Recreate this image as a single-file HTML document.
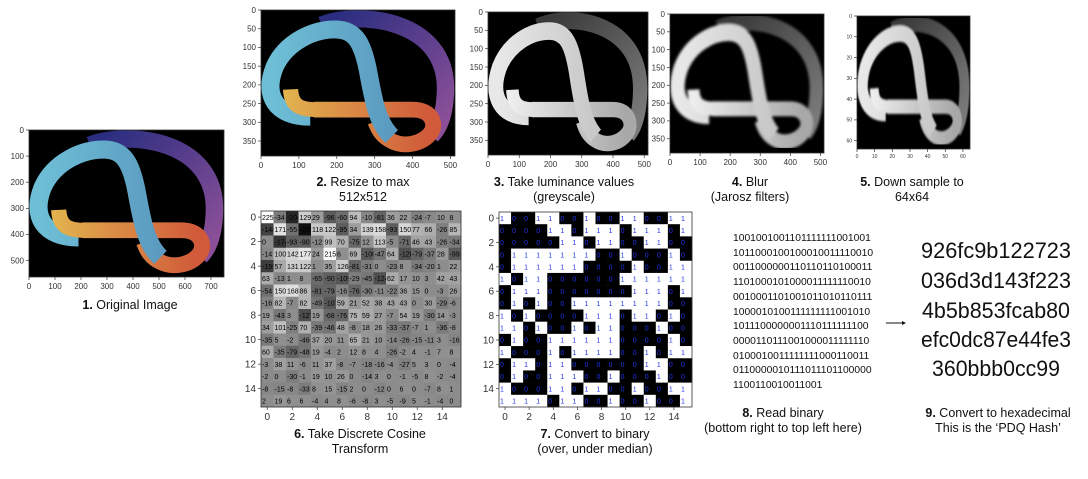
<!DOCTYPE html>
<html><head><meta charset="utf-8">
<style>
html,body{margin:0;padding:0;background:#fff;}
svg{display:block;font-family:"Liberation Sans",sans-serif;}
.t{font-size:12.5px;fill:#111;text-anchor:middle;}
</style></head>
<body>
<svg id="fig" width="1088" height="479" viewBox="0 0 1088 479" xmlns="http://www.w3.org/2000/svg">
<defs>
<filter id="blur4" x="-5%" y="-5%" width="110%" height="110%"><feGaussianBlur stdDeviation="4"/></filter>
<filter id="blur5" x="-5%" y="-5%" width="110%" height="110%"><feGaussianBlur stdDeviation="3"/></filter>
</defs>
<g id="titles">
<text class="t" x="130" y="309"><tspan font-weight="bold">1.</tspan> Original Image</text>
<text class="t" x="363" y="186"><tspan font-weight="bold">2.</tspan> Resize to max</text>
<text class="t" x="363" y="201">512x512</text>
<text class="t" x="564" y="186"><tspan font-weight="bold">3.</tspan> Take luminance values</text>
<text class="t" x="564" y="201">(greyscale)</text>
<text class="t" x="750" y="186"><tspan font-weight="bold">4.</tspan> Blur</text>
<text class="t" x="750" y="201">(Jarosz filters)</text>
<text class="t" x="912" y="186"><tspan font-weight="bold">5.</tspan> Down sample to</text>
<text class="t" x="912" y="201">64x64</text>
<text class="t" x="360" y="438"><tspan font-weight="bold">6.</tspan> Take Discrete Cosine</text>
<text class="t" x="360" y="453">Transform</text>
<text class="t" x="595" y="438"><tspan font-weight="bold">7.</tspan> Convert to binary</text>
<text class="t" x="595" y="453">(over, under median)</text>
<text class="t" x="783" y="417"><tspan font-weight="bold">8.</tspan> Read binary</text>
<text class="t" x="783" y="432">(bottom right to top left here)</text>
<text class="t" x="998" y="417"><tspan font-weight="bold">9.</tspan> Convert to hexadecimal</text>
<text class="t" x="998" y="432">This is the ‘PDQ Hash’</text>
</g>
<g id="bintext" font-size="10.3" fill="#111">
<text x="733" y="241">1001001001101111111001001</text>
<text x="733" y="256">1011000100100010011110010</text>
<text x="733" y="270">0011000000110110110100011</text>
<text x="733" y="285">1101000101000011111110010</text>
<text x="733" y="300">0010001101001011010110111</text>
<text x="733" y="315">1000010100111111111001010</text>
<text x="733" y="329">1011100000001110111111100</text>
<text x="733" y="344">0000110111001000011111110</text>
<text x="733" y="359">0100010011111111000110011</text>
<text x="733" y="373">0110000010111011101100000</text>
<text x="733" y="388">1100110010011001</text>
</g>
<g>
<line x1="886" y1="323" x2="902" y2="323" stroke="#111" stroke-width="1"/>
<polygon points="902,321 906,323 902,325" fill="#111"/>
</g>
<g id="hex" font-size="22" fill="#111" text-anchor="middle">
<text x="996" y="258" textLength="150" lengthAdjust="spacingAndGlyphs">926fc9b122723</text>
<text x="996" y="288" textLength="150" lengthAdjust="spacingAndGlyphs">036d3d143f223</text>
<text x="996" y="318" textLength="148" lengthAdjust="spacingAndGlyphs">4b5b853fcab80</text>
<text x="996" y="347" textLength="150" lengthAdjust="spacingAndGlyphs">efc0dc87e44fe3</text>
<text x="996" y="376" textLength="128" lengthAdjust="spacingAndGlyphs">360bbb0cc99</text>
</g>
</svg>
<script>
const dctValues = [
[225,-34,-204,129,29,-96,-60,94,-10,-81,36,22,-24,-7,10,8],
[-148,171,-55,-250,118,122,-95,34,139,158,-93,150,77,66,-26,85],
[0,-174,-93,-90,-12,99,70,-75,12,113,-5,-71,46,43,-26,-34],
[-14,100,142,177,24,215,6,69,-100,-47,64,-120,-79,-37,28,-99],
[-159,57,131,122,1,35,126,-81,-31,0,-23,8,-34,-20,1,22],
[63,-13,1,8,-65,-90,-109,-29,-45,-124,62,17,10,3,42,43],
[-54,150,168,86,-81,-79,-16,-76,-30,-11,-22,36,15,0,-3,26],
[-16,82,-7,82,-49,-107,59,21,52,38,43,43,0,30,-29,-6],
[19,-43,3,-127,19,-68,-76,75,59,27,-7,54,19,-30,14,-3],
[34,101,-25,70,-39,-46,48,-8,18,26,-33,-37,-7,1,-36,-8],
[-35,5,-2,-46,37,20,11,65,21,10,-14,-26,-15,-11,3,-16],
[60,-35,-79,-48,19,-4,2,12,8,4,-26,-2,4,-1,7,8],
[-3,38,11,-6,11,37,-8,-7,-18,-16,-4,-27,5,3,0,-4],
[-2,0,-30,-1,19,10,26,0,-14,3,0,-1,-5,8,-2,-4],
[-8,-15,-8,-33,8,15,-15,2,0,-12,0,6,0,-7,8,1],
[2,19,6,6,-4,4,8,-6,-8,3,-5,-9,5,-1,-4,0]];
const binValues = [
[1,0,0,1,1,0,0,1,0,0,1,1,0,0,1,1],
[0,0,0,0,1,1,0,1,1,1,0,1,1,1,0,1],
[0,0,0,0,0,1,1,0,1,1,0,0,1,1,0,0],
[0,1,1,1,1,1,1,1,0,0,1,0,0,0,1,0],
[0,1,1,1,1,1,1,0,0,0,0,1,0,0,1,1],
[1,0,1,1,0,0,0,0,0,0,1,1,1,1,1,1],
[0,1,1,1,0,0,0,0,0,0,0,1,1,1,0,1],
[0,1,0,1,0,0,1,1,1,1,1,1,1,1,0,0],
[1,0,1,0,0,0,0,1,1,1,0,1,1,0,1,0],
[1,1,0,1,0,0,1,0,1,1,0,0,0,1,0,0],
[0,1,0,0,1,1,1,1,1,1,0,0,0,0,1,0],
[1,0,0,0,1,0,1,1,1,1,0,0,1,0,1,1],
[0,1,1,0,1,1,0,0,0,0,0,0,1,1,0,0],
[0,1,0,0,1,1,1,0,0,1,0,0,0,1,0,0],
[1,0,0,0,1,1,0,1,1,0,0,1,0,0,1,1],
[1,1,1,1,0,1,1,0,0,1,0,0,1,0,0,1]];
const gridTicks = [0,2,4,6,8,10,12,14];
const imgTicksX1 = [0,100,200,300,400,500,600,700];
const imgTicksY1 = [0,100,200,300,400,500];
const imgTicksX2 = [0,100,200,300,400,500];
const imgTicksY2 = [0,50,100,150,200,250,300,350];
const smallTicks = [0,10,20,30,40,50,60];

const NS="http://www.w3.org/2000/svg";
const svg=document.getElementById('fig');
function el(tag,attrs,parent){const e=document.createElementNS(NS,tag);for(const k in attrs)e.setAttribute(k,attrs[k]);(parent||svg).appendChild(e);return e;}

function axes(g,box,xmax,ymax,xt,yt,fs){
  const sx=v=>box[0]+v/xmax*(box[2]-box[0]);
  const sy=v=>box[1]+v/ymax*(box[3]-box[1]);
  xt.forEach(v=>{
    el('line',{x1:sx(v),x2:sx(v),y1:box[3],y2:box[3]+3,stroke:'#333','stroke-width':0.7},g);
    const t=el('text',{x:sx(v),y:box[3]+4+fs,'font-size':fs,fill:'#333','text-anchor':'middle'},g);
    t.textContent=v;
    
    
  });
  yt.forEach(v=>{
    el('line',{x1:box[0]-3,x2:box[0],y1:sy(v),y2:sy(v),stroke:'#333','stroke-width':0.7},g);
    const t=el('text',{x:box[0]-5,y:sy(v)+fs*0.35,'font-size':fs,fill:'#333','text-anchor':'end'},g);
    t.textContent=v;
    
    
  });
  el('rect',{x:box[0],y:box[1],width:box[2]-box[0],height:box[3]-box[1],fill:'none',stroke:'#333','stroke-width':0.8},g);
}

let gid=0;
function ribbon(box,pal,filter,name){
  const g=el('g',{});
  
  
  const s=el('svg',{x:box[0],y:box[1],width:box[2]-box[0],height:box[3]-box[1],viewBox:'0 0 512 390',preserveAspectRatio:'none'},g);
  el('rect',{x:0,y:0,width:512,height:390,fill:'#000'},s);
  const d=el('defs',{},s);
  function grad(x1,y1,x2,y2,c1,c2){const id='gr'+(gid++);const lg=el('linearGradient',{id:id,gradientUnits:'userSpaceOnUse',x1:x1,y1:y1,x2:x2,y2:y2},d);el('stop',{offset:0,'stop-color':c1},lg);el('stop',{offset:1,'stop-color':c2},lg);return 'url(#'+id+')';}
  const inner=el('g',filter?{filter:'url(#'+filter+')'}:{},s);
  const orange=grad(60,0,440,0,pal[2],pal[3]);
  el('path',{d:'M160 40 C260 0,488 25,487 210 C486 280,470 315,450 335',fill:'none',stroke:grad(200,20,480,300,pal[0],pal[1]),'stroke-width':46},inner);
  el('path',{d:'M140 266 L400 266 C455 266,465 310,445 332 C420 360,375 366,345 350 C320 338,310 320,302 298',fill:'none',stroke:orange,'stroke-width':42},inner);
  el('path',{d:'M130 285 C40 285,5 230,36 152 C66 85,140 50,200 52 C250 54,268 90,282 160 C296 235,305 300,345 338',fill:'none',stroke:grad(30,0,340,0,pal[4],pal[5]),'stroke-width':48},inner);
  el('path',{d:'M78 212 C80 255,102 266,145 266',fill:'none',stroke:orange,'stroke-width':40},inner);
  return g;
}
const colorPal=['#2b2e80','#8a4f98','#e2b44e','#d05a3a','#6ebed6','#5b9bc0'];
const greyPal=['#3a3a3a','#7a7a7a','#f0f0f0','#a8a8a8','#e8e8e8','#c8c8c8'];

const b1=[29,130,224,277]; ribbon(b1,colorPal,null,'original-image'); axes(svg,b1,750,563,imgTicksX1,imgTicksY1,8);
const b2=[261,10,455,156]; ribbon(b2,colorPal,null,'resized-image'); axes(svg,b2,512,390,imgTicksX2,imgTicksY2,8);
const b3=[488,12,648,155]; ribbon(b3,greyPal,null,'greyscale-image'); axes(svg,b3,512,390,imgTicksX2,imgTicksY2,8);
const b4=[670,14,824,153]; ribbon(b4,greyPal,'blur4','blurred-image'); axes(svg,b4,512,390,imgTicksX2,imgTicksY2,8);
const b5=[857,16,970,149]; ribbon(b5,greyPal,'blur5','downsampled-image'); axes(svg,b5,64,64,smallTicks,smallTicks,5);

function grid(box,name,fill,label,color){
  const g=el('g',{});
  
  
  const n=16,cw=(box[2]-box[0])/n,ch=(box[3]-box[1])/n;
  for(let r=0;r<n;r++)for(let c=0;c<n;c++){
    const cell=el('rect',{x:box[0]+c*cw,y:box[1]+r*ch,width:cw+0.3,height:ch+0.3,fill:fill(r,c)},g);
    
    
    const t=el('text',{x:box[0]+c*cw+1,y:box[1]+r*ch+ch*0.72,'font-size':7,fill:color(r,c)},g);
    t.textContent=label(r,c);
  }
  const ax=el('g',{},g);
  const sx=v=>box[0]+(v+0.5)*cw, sy=v=>box[1]+(v+0.5)*ch;
  gridTicks.forEach(v=>{
    el('line',{x1:sx(v),x2:sx(v),y1:box[3],y2:box[3]+3,stroke:'#333','stroke-width':0.7},ax);
    const t=el('text',{x:sx(v),y:box[3]+13,'font-size':10,fill:'#333','text-anchor':'middle'},ax);t.textContent=v;
    el('line',{x1:box[0]-3,x2:box[0],y1:sy(v),y2:sy(v),stroke:'#333','stroke-width':0.7},ax);
    const u=el('text',{x:box[0]-5,y:sy(v)+3.5,'font-size':10,fill:'#333','text-anchor':'end'},ax);u.textContent=v;
  });
  el('rect',{x:box[0],y:box[1],width:box[2]-box[0],height:box[3]-box[1],fill:'none',stroke:'#333','stroke-width':0.8},g);
}
grid([261,211,461,407],'dct-heatmap',(r,c)=>{const v=Math.max(0,Math.min(255,Math.round(140+dctValues[r][c]*0.5)));return 'rgb('+v+','+v+','+v+')';},(r,c)=>dctValues[r][c],()=>'#000');
grid([499,212,692,407],'binary-grid',(r,c)=>binValues[r][c]?'#fff':'#000',(r,c)=>binValues[r][c],()=>'#2233ee');
</script>
</body></html>
